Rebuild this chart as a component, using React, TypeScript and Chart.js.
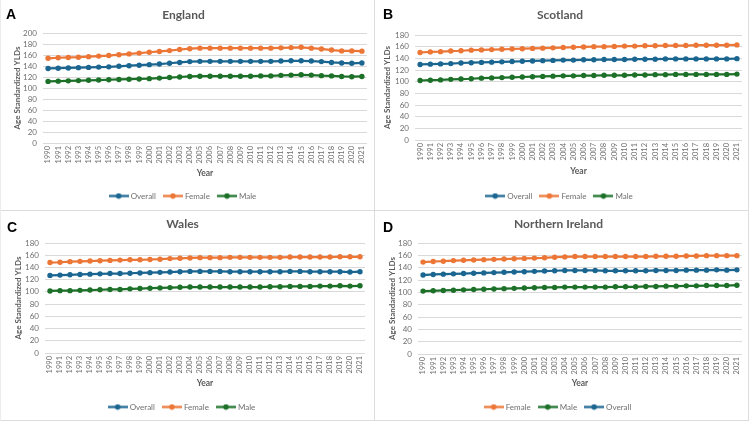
import React, { useEffect, useRef } from "react";
import { Chart, registerables } from "chart.js";

Chart.register(...registerables);

// Years on the category axis
const years = [
  "1990", "1991", "1992", "1993", "1994", "1995", "1996", "1997",
  "1998", "1999", "2000", "2001", "2002", "2003", "2004", "2005",
  "2006", "2007", "2008", "2009", "2010", "2011", "2012", "2013",
  "2014", "2015", "2016", "2017", "2018", "2019", "2020", "2021",
];

// England
const englandOverall = [135.5, 136, 136.5, 137, 137.5, 138, 138.5, 139.5, 140.5, 141.5, 142.5, 143.5, 145, 146.5, 148, 148.5, 148.5, 148.5, 148.5, 148.5, 148.5, 148.5, 148.5, 149, 149.5, 149.5, 149, 148, 146.5, 145.5, 145, 145.5];
const englandFemale = [154, 155, 155.5, 156, 157, 158, 159, 160.5, 162, 163.5, 165, 166.5, 168, 170, 171.5, 172.5, 172.5, 172.5, 172.5, 172.5, 172.5, 172.5, 172.5, 173, 173.5, 174, 172.5, 171, 169, 167.5, 167.5, 167];
const englandMale = [112, 112.5, 113, 113.5, 114, 114.5, 115, 115.5, 116, 116.5, 117, 118, 119, 120, 121, 121.5, 121.5, 121.5, 121.5, 121.5, 121.5, 122, 122, 123, 123.5, 124, 123.5, 122.5, 122, 121, 120.5, 121];

// Scotland
const scotlandOverall = [129.5, 130, 130.5, 131, 132, 132.5, 133, 133.5, 134, 134.5, 135, 135.5, 136, 136.5, 137, 137, 137.5, 137.5, 138, 138, 138, 138.5, 138.5, 138.5, 139, 139, 139, 139, 139, 139, 139, 139.5];
const scotlandFemale = [150, 151, 151.5, 152.5, 153, 154, 154.5, 155, 155.5, 156, 156.5, 157, 157.5, 158, 158.5, 159, 159.5, 160, 160, 160.5, 161, 161, 161.5, 161.5, 162, 162, 162, 162.5, 162.5, 162.5, 162.5, 163];
const scotlandMale = [102, 102.5, 103, 104, 104.5, 105, 106, 106.5, 107, 107.5, 108, 108.5, 109, 109.5, 110, 110, 110.5, 110.5, 111, 111, 111, 111.5, 111.5, 112, 112, 112.5, 112.5, 112.5, 112.5, 112.5, 112.5, 113];

// Wales
const walesOverall = [127, 127.5, 128, 128.5, 129, 129.5, 130, 130, 130.5, 131, 131.5, 132, 132.5, 133, 133.5, 133.5, 133.5, 133.5, 133, 133, 133, 133, 133, 133, 133.5, 133.5, 133, 133, 133, 133, 132.5, 133];
const walesFemale = [148, 148.5, 149.5, 150, 150.5, 151, 151.5, 152, 152.5, 152.5, 153, 153.5, 154.5, 155, 155.5, 156, 156, 156, 156.5, 156.5, 156.5, 156.5, 156.5, 156.5, 157, 157, 157, 157, 157, 157.5, 157.5, 157.5];
const walesMale = [101.5, 102, 102, 102.5, 103, 103.5, 104, 104, 105, 105.5, 106, 106.5, 107, 107.5, 108, 108, 108, 108, 108, 108, 108, 108, 108.5, 108.5, 109, 109, 109, 109.5, 109.5, 110, 109.5, 110];

// Northern Ireland
const niFemale = [149, 150, 150.5, 151.5, 152, 152.5, 153, 153.5, 154, 154.5, 155, 155.5, 156, 157, 157.5, 158, 158, 158, 158, 158, 158, 158, 158, 158.5, 158.5, 158.5, 159, 159, 159.5, 159.5, 159.5, 159.5];
const niMale = [102, 102.5, 103, 103.5, 104, 104.5, 105, 105.5, 106, 106.5, 107, 107.5, 108, 108, 108.5, 108.5, 108.5, 108.5, 108.5, 109, 109, 109, 109.5, 109.5, 110, 110, 110.5, 110.5, 111, 111, 111, 111.5];
const niOverall = [128, 129, 129.5, 130, 130.5, 131, 131.5, 132, 132.5, 133, 133.5, 134, 134.5, 135, 135.5, 135.5, 135.5, 135.5, 135, 135, 135, 135, 135, 135.5, 135.5, 135.5, 136, 136, 136, 136.5, 136, 136.5];

const BLUE = "#1a6690";
const ORANGE = "#ec7636";
const GREEN = "#1c7028";
const TEXT = "#6f6f6f";
const DARK = "#595959";
const GRID = "#d9d9d9";
const FONT = "Lato, 'Open Sans', sans-serif";

const PANEL_W = 374;
const PANEL_H = 210;
const LEGEND_TOP = 183;

type Series = { label: string; data: number[]; color: string };
type Box = {
  plotLeft: number;
  plotRight: number;
  plotTop: number;
  plotBottom: number;
  titleY: number;
  yearY: number;
  yTitleX: number;
};
type PanelProps = {
  letter: string;
  letterTop: number;
  letterLeft: number;
  title: string;
  yMax: number;
  series: Series[];
  box: Box;
  left: number;
  top: number;
};

// Small "line with marker" swatch for the legend
function legendIcon(color: string): HTMLCanvasElement {
  const c = document.createElement("canvas");
  c.width = 20;
  c.height = 7;
  const ctx = c.getContext("2d")!;
  ctx.strokeStyle = color;
  ctx.lineWidth = 2.25;
  ctx.beginPath();
  ctx.moveTo(0, 3.5);
  ctx.lineTo(20, 3.5);
  ctx.stroke();
  ctx.fillStyle = color;
  ctx.beginPath();
  ctx.arc(10, 3.5, 2.8, 0, Math.PI * 2);
  ctx.fill();
  return c;
}

function Panel(props: PanelProps) {
  const ref = useRef<HTMLCanvasElement | null>(null);
  const { title, yMax, series, box } = props;

  useEffect(() => {
    if (!ref.current) return;
    const icons = series.map((s) => legendIcon(s.color));
    const chart = new Chart(ref.current, {
      type: "line",
      data: {
        labels: years,
        datasets: series.map((s) => ({
          label: s.label,
          data: s.data,
          borderColor: s.color,
          backgroundColor: s.color,
          pointBackgroundColor: s.color,
          pointBorderWidth: 0,
          pointRadius: 2.7,
          borderWidth: 2.25,
          tension: 0,
        })),
      },
      options: {
        responsive: false,
        animation: false,
        devicePixelRatio: 1,
        layout: {
          padding: { left: 0, right: PANEL_W - box.plotRight, top: 0, bottom: 0 },
        },
        plugins: {
          title: {
            display: true,
            text: title,
            color: DARK,
            font: { family: FONT, size: 12, weight: "bold" },
            padding: { top: box.titleY - 7.2, bottom: box.plotTop - box.titleY - 7.2 },
          },
          legend: {
            position: "bottom",
            labels: {
              usePointStyle: true,
              pointStyleWidth: 16,
              padding: 9,
              color: TEXT,
              font: { family: FONT, size: 8 },
              generateLabels: (ch: any) =>
                ch.data.datasets.map((ds: any, i: number) => ({
                  text: ds.label,
                  fillStyle: ds.borderColor,
                  strokeStyle: ds.borderColor,
                  lineWidth: 0,
                  pointStyle: icons[i],
                  fontColor: TEXT,
                  hidden: false,
                  datasetIndex: i,
                })),
            },
          },
          tooltip: { enabled: false },
        },
        scales: {
          x: {
            type: "category",
            offset: true,
            grid: { display: false, drawTicks: false },
            border: { display: false },
            ticks: {
              autoSkip: false,
              minRotation: 90,
              maxRotation: 90,
              padding: 3,
              color: TEXT,
              font: { family: FONT, size: 7.5 },
            },
            title: {
              display: true,
              text: "Year",
              color: DARK,
              font: { family: FONT, size: 8.5, weight: "bold" },
              padding: { top: 0, bottom: LEGEND_TOP - box.yearY - 5.1 },
            },
            afterFit: (s: any) => {
              s.height = LEGEND_TOP - box.plotBottom;
            },
          },
          y: {
            min: 0,
            max: yMax,
            ticks: {
              stepSize: 20,
              autoSkip: false,
              padding: 6,
              color: TEXT,
              font: { family: FONT, size: 8 },
            },
            grid: { color: GRID, lineWidth: 1, drawTicks: false },
            border: { display: false },
            title: {
              display: true,
              text: "Age Standardized YLDs",
              color: DARK,
              font: { family: FONT, size: 8, weight: "bold" },
              padding: { top: box.yTitleX - 4.8, bottom: 0 },
            },
            afterFit: (s: any) => {
              s.width = box.plotLeft;
            },
          },
        },
      } as any,
    });
    return () => chart.destroy();
  }, []);

  return (
    <div
      style={{
        position: "absolute",
        left: props.left,
        top: props.top,
        width: PANEL_W,
        height: PANEL_H,
      }}
    >
      <canvas ref={ref} width={PANEL_W} height={PANEL_H} style={{ display: "block" }} />
      <div
        style={{
          position: "absolute",
          left: props.letterLeft,
          top: props.letterTop,
          fontFamily: "'Liberation Sans', Arial, sans-serif",
          fontWeight: "bold",
          fontSize: 14,
          lineHeight: "14px",
          color: "#000",
        }}
      >
        {props.letter}
      </div>
    </div>
  );
}

export default function App() {
  return (
    <div
      style={{
        position: "fixed",
        left: 0,
        top: 0,
        width: 750,
        height: 422,
        background: "#fff",
        overflow: "hidden",
      }}
    >
      <Panel
        letter="A"
        letterLeft={6}
        letterTop={7}
        title="England"
        yMax={200}
        left={0}
        top={0}
        series={[
          { label: "Overall", data: englandOverall, color: BLUE },
          { label: "Female", data: englandFemale, color: ORANGE },
          { label: "Male", data: englandMale, color: GREEN },
        ]}
        box={{ plotLeft: 43, plotRight: 367, plotTop: 33, plotBottom: 143, titleY: 15, yearY: 173, yTitleX: 17 }}
      />
      <Panel
        letter="B"
        letterLeft={8}
        letterTop={7}
        title="Scotland"
        yMax={180}
        left={375}
        top={0}
        series={[
          { label: "Overall", data: scotlandOverall, color: BLUE },
          { label: "Female", data: scotlandFemale, color: ORANGE },
          { label: "Male", data: scotlandMale, color: GREEN },
        ]}
        box={{ plotLeft: 40, plotRight: 370, plotTop: 35, plotBottom: 140, titleY: 15, yearY: 171, yTitleX: 12 }}
      />
      <Panel
        letter="C"
        letterLeft={7}
        letterTop={9}
        title="Wales"
        yMax={180}
        left={0}
        top={211}
        series={[
          { label: "Overall", data: walesOverall, color: BLUE },
          { label: "Female", data: walesFemale, color: ORANGE },
          { label: "Male", data: walesMale, color: GREEN },
        ]}
        box={{ plotLeft: 45, plotRight: 365, plotTop: 32, plotBottom: 142, titleY: 13, yearY: 172, yTitleX: 18 }}
      />
      <Panel
        letter="D"
        letterLeft={8}
        letterTop={9}
        title="Northern Ireland"
        yMax={180}
        left={375}
        top={211}
        series={[
          { label: "Female", data: niFemale, color: ORANGE },
          { label: "Male", data: niMale, color: GREEN },
          { label: "Overall", data: niOverall, color: BLUE },
        ]}
        box={{ plotLeft: 43, plotRight: 367, plotTop: 32, plotBottom: 143, titleY: 13, yearY: 172, yTitleX: 17 }}
      />
      {/* panel separators */}
      <div style={{ position: "absolute", left: 374, top: 0, width: 1, height: 421, background: "#dcdcdc" }} />
      <div style={{ position: "absolute", left: 748, top: 0, width: 1, height: 421, background: "#dcdcdc" }} />
      <div style={{ position: "absolute", left: 0, top: 210, width: 749, height: 1, background: "#dcdcdc" }} />
      <div style={{ position: "absolute", left: 0, top: 420, width: 749, height: 1, background: "#dcdcdc" }} />
      <div style={{ position: "absolute", left: 0, top: 0, width: 1, height: 421, background: "#ececec" }} />
    </div>
  );
}
